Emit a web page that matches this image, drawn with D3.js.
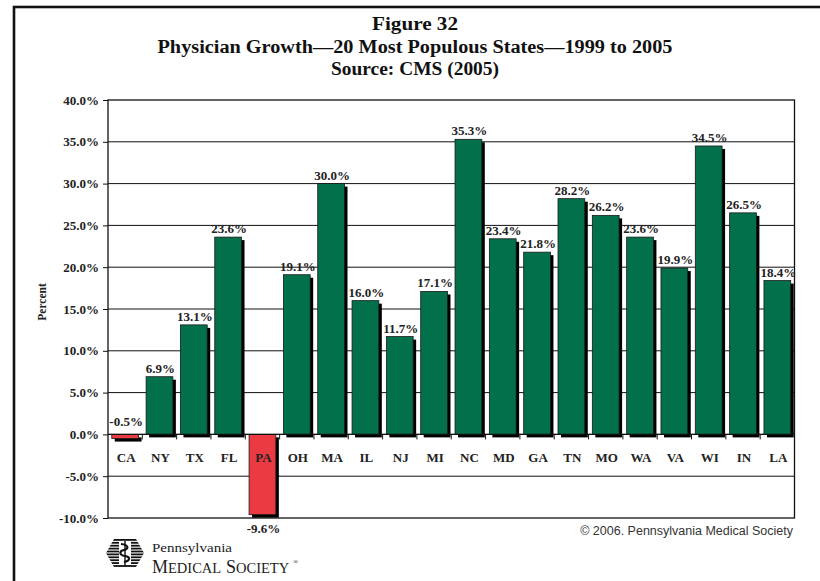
<!DOCTYPE html>
<html>
<head>
<meta charset="utf-8">
<script src="https://cdn.jsdelivr.net/npm/d3@7"></script>
<style>
  html, body { margin: 0; padding: 0; background: #fff; }
  svg { display: block; }
</style>
</head>
<body>
<svg id="chart" width="820" height="581"></svg>
<script>
// ---- data ----
const categories = ["CA","NY","TX","FL","PA","OH","MA","IL","NJ","MI","NC","MD","GA","TN","MO","WA","VA","WI","IN","LA"];
const values = [-0.5, 6.9, 13.1, 23.6, -9.6, 19.1, 30.0, 16.0, 11.7, 17.1, 35.3, 23.4, 21.8, 28.2, 26.2, 23.6, 19.9, 34.5, 26.5, 18.4];
const yTicks = [-10, -5, 0, 5, 10, 15, 20, 25, 30, 35, 40];
const titleLines = ["Figure 32", "Physician Growth\u201420 Most Populous States\u20141999 to 2005", "Source: CMS (2005)"];
const yAxisTitle = "Percent";
const copyright = "\u00A9 2006. Pennsylvania Medical Society";

// ---- layout ----
const svg = d3.select("#chart");
const serif = "'Liberation Serif', 'DejaVu Serif', serif";
const plot = { left: 108, right: 794.5, top: 100, bottom: 518 };
const green = "#02704a", red = "#ec3a43";
const pct = v => (v < 0 ? "-" : "") + Math.abs(v).toFixed(1) + "%";

// outer frame (only left and top visible)
svg.append("rect").attr("x", 14).attr("y", 7).attr("width", 900).attr("height", 700)
  .attr("fill", "none").attr("stroke", "#111").attr("stroke-width", 2.6);

// title
const titleWidths = [86, 515, 168];
svg.append("g").selectAll("text").data(titleLines).join("text")
  .attr("x", 415).attr("y", (d, i) => 30 + i * 22.5)
  .attr("text-anchor", "middle")
  .attr("font-family", serif).attr("font-weight", "bold").attr("font-size", 18)
  .attr("textLength", (d, i) => titleWidths[i]).attr("lengthAdjust", "spacingAndGlyphs")
  .attr("fill", "#111")
  .text(d => d);

const x = d3.scaleBand().domain(categories).range([plot.left, plot.right])
  .paddingInner(0.22).paddingOuter(0.11);
const y = d3.scaleLinear().domain([-10, 40]).range([plot.bottom, plot.top]);

// gridlines
svg.append("g").selectAll("line").data(yTicks.filter(t => t > -10 && t < 40)).join("line")
  .attr("x1", plot.left).attr("x2", plot.right)
  .attr("y1", d => y(d)).attr("y2", d => y(d))
  .attr("stroke", "#111").attr("stroke-width", 1);

// y axis
const yAxis = d3.axisLeft(y).tickValues(yTicks).tickSize(5).tickPadding(4)
  .tickFormat(pct);
const ga = svg.append("g").attr("transform", `translate(${plot.left},0)`).call(yAxis);
ga.select(".domain").remove();
ga.selectAll("line").attr("stroke", "#111");
ga.selectAll("text").attr("font-family", serif).attr("font-weight", "bold")
  .attr("font-size", 13).attr("fill", "#222");

// y axis title
svg.append("text").attr("transform", "translate(46,302) rotate(-90)")
  .attr("text-anchor", "middle").attr("font-family", serif).attr("font-weight", "bold")
  .attr("font-size", 11.5).attr("fill", "#222").text(yAxisTitle);

// category tick marks at band boundaries
const step = x.step();
const bounds = d3.range(1, categories.length).map(i => plot.left + i * step);
svg.append("g").selectAll("line").data(bounds).join("line")
  .attr("x1", d => d).attr("x2", d => d)
  .attr("y1", y(0)).attr("y2", y(0) + 5)
  .attr("stroke", "#111").attr("stroke-width", 1);

const data = categories.map((c, i) => ({ c, v: values[i] }));

// shadows
svg.append("g").selectAll("rect").data(data).join("rect")
  .attr("x", d => x(d.c) + 3)
  .attr("y", d => Math.min(y(d.v), y(0)) + 3)
  .attr("width", x.bandwidth())
  .attr("height", d => Math.abs(y(d.v) - y(0)))
  .attr("fill", "#000");

// bars
svg.append("g").selectAll("rect").data(data).join("rect")
  .attr("x", d => x(d.c))
  .attr("y", d => Math.min(y(d.v), y(0)))
  .attr("width", x.bandwidth())
  .attr("height", d => Math.abs(y(d.v) - y(0)))
  .attr("fill", d => d.v < 0 ? red : green)
  .attr("stroke", "#1a1a1a").attr("stroke-width", 0.8);

// zero line
svg.append("line").attr("x1", plot.left).attr("x2", plot.right)
  .attr("y1", y(0)).attr("y2", y(0)).attr("stroke", "#111").attr("stroke-width", 1.2);

// plot frame
svg.append("rect").attr("x", plot.left).attr("y", plot.top)
  .attr("width", plot.right - plot.left).attr("height", plot.bottom - plot.top)
  .attr("fill", "none").attr("stroke", "#111").attr("stroke-width", 1.3);

// value labels
svg.append("g").selectAll("text").data(data).join("text")
  .attr("x", d => x(d.c) + x.bandwidth() / 2 + 1)
  .attr("y", d => {
    if (d.v >= 0) return y(d.v) - 4;
    if (d.v > -2) return y(0) - 8;
    return y(d.v) + 18;
  })
  .attr("text-anchor", "middle")
  .attr("font-family", serif).attr("font-weight", "bold").attr("font-size", 13)
  .attr("fill", "#222")
  .text(d => pct(d.v));

// category labels
svg.append("g").selectAll("text").data(data).join("text")
  .attr("x", d => x(d.c) + x.bandwidth() / 2 + 1)
  .attr("y", y(0) + 28)
  .attr("text-anchor", "middle")
  .attr("font-family", serif).attr("font-weight", "bold").attr("font-size", 13)
  .attr("fill", "#222")
  .text(d => d.c);

// copyright
svg.append("text").attr("x", 793).attr("y", 535).attr("text-anchor", "end")
  .attr("font-family", "'Liberation Sans', Arial, sans-serif").attr("font-size", 12.5)
  .attr("fill", "#333").text(copyright);

// logo
const logo = svg.append("g");
const hex = "M106,553 L114,539 L136,539 L144,553 L136,567 L114,567 Z";
svg.append("defs").append("clipPath").attr("id", "hexclip").append("path").attr("d", hex);
const stripes = logo.append("g").attr("clip-path", "url(#hexclip)");
stripes.selectAll("rect").data(d3.range(0, 10)).join("rect")
  .attr("x", 104).attr("width", 42)
  .attr("y", d => 539 + d * 2.9).attr("height", 1.8)
  .attr("fill", "#111");
stripes.append("rect").attr("x", 119).attr("y", 541).attr("width", 12).attr("height", 24).attr("fill", "#fff");
stripes.append("line").attr("x1", 125).attr("x2", 125).attr("y1", 541).attr("y2", 566)
  .attr("stroke", "#111").attr("stroke-width", 1.4);
stripes.append("path")
  .attr("d", "M121,544 C129,545 129,549 124,550 C119,551 119,555 125,556 C131,557 130,561 124,562")
  .attr("fill", "none").attr("stroke", "#111").attr("stroke-width", 2.2);
logo.append("text").attr("x", 152).attr("y", 552)
  .attr("font-family", serif).attr("font-size", 13.5).attr("fill", "#222")
  .attr("textLength", 80).attr("lengthAdjust", "spacingAndGlyphs").text("Pennsylvania");
const ms = logo.append("text").attr("x", 152).attr("y", 573)
  .attr("font-family", serif).attr("fill", "#222");
ms.append("tspan").attr("font-size", 18).text("M");
ms.append("tspan").attr("font-size", 14.5).text("EDICAL");
ms.append("tspan").attr("x", 226).attr("font-size", 18).text("S");
ms.append("tspan").attr("font-size", 14.5).text("OCIETY");
logo.append("text").attr("x", 293).attr("y", 564)
  .attr("font-family", serif).attr("font-size", 7).attr("fill", "#222").text("\u00AE");
</script>
</body>
</html>
